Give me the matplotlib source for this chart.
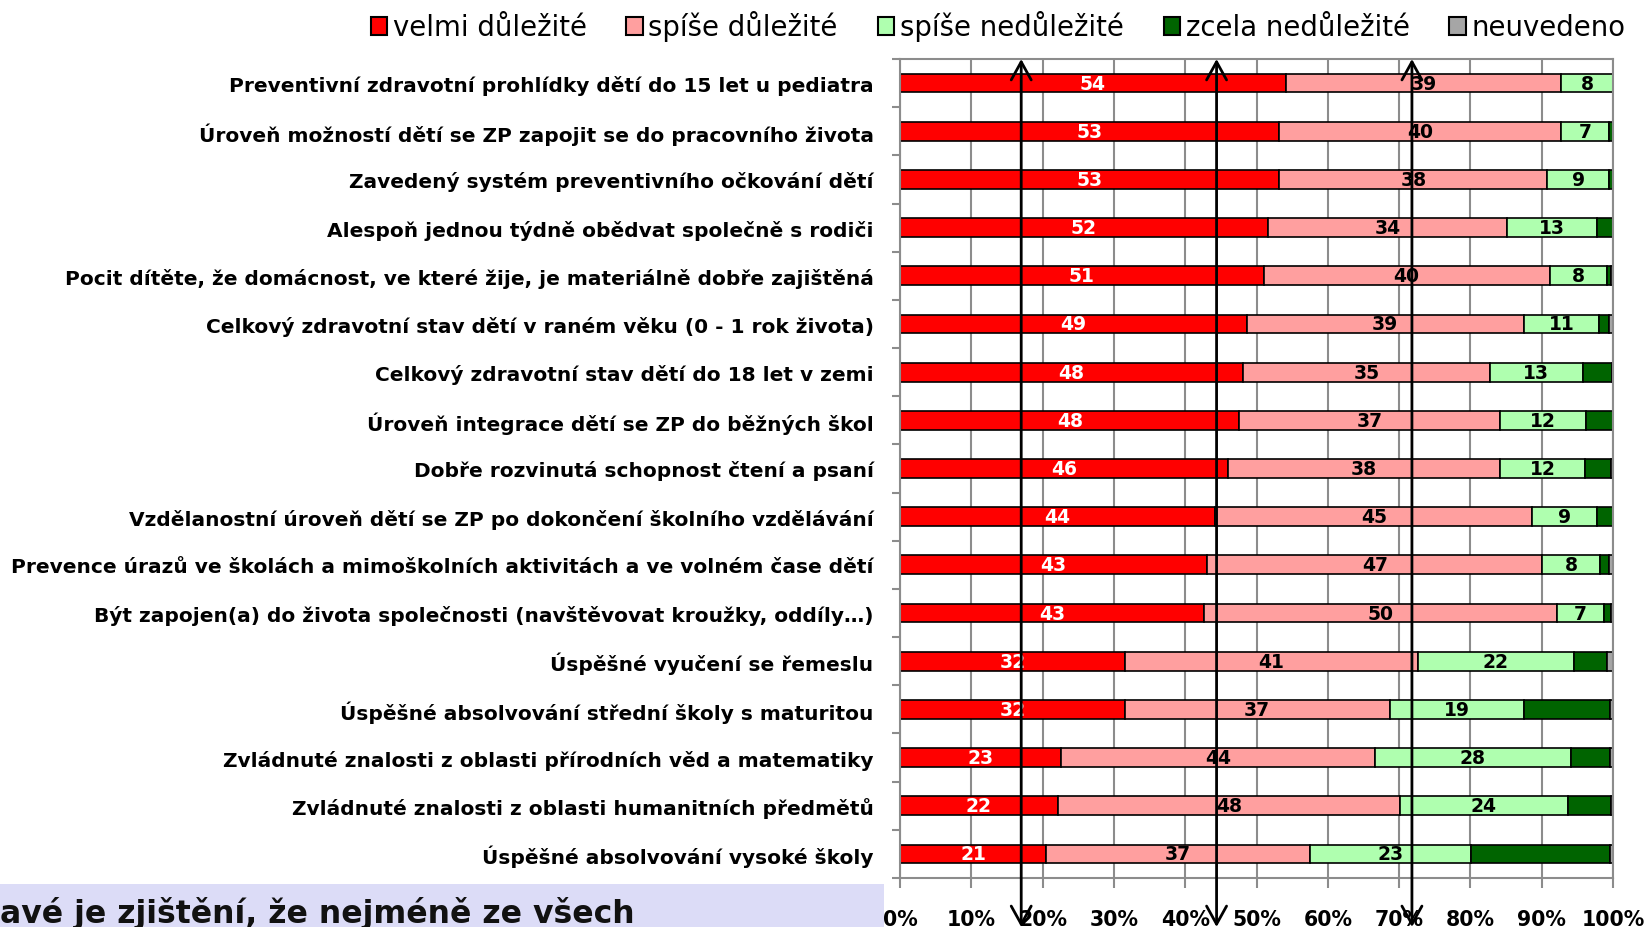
import matplotlib
matplotlib.use('Agg')
import matplotlib.pyplot as plt
from matplotlib.patches import Patch, FancyArrowPatch, Rectangle
import matplotlib.transforms as mtransforms
import numpy as np

plt.rcParams['font.family'] = ['DejaVu Sans']

categories = [
    'Preventivní zdravotní prohlídky dětí do 15 let u pediatra',
    'Úroveň možností dětí se ZP zapojit se do pracovního života',
    'Zavedený systém preventivního očkování dětí',
    'Alespoň jednou týdně obědvat společně s rodiči',
    'Pocit dítěte, že domácnost, ve které žije, je materiálně dobře zajištěná',
    'Celkový zdravotní stav dětí v raném věku (0 - 1 rok života)',
    'Celkový zdravotní stav dětí do 18 let v zemi',
    'Úroveň integrace dětí se ZP do běžných škol',
    'Dobře rozvinutá schopnost čtení a psaní',
    'Vzdělanostní úroveň dětí se ZP po dokončení školního vzdělávání',
    'Prevence úrazů ve školách a mimoškolních aktivitách a ve volném čase dětí',
    'Být zapojen(a) do života společnosti (navštěvovat kroužky, oddíly…)',
    'Úspěšné vyučení se řemeslu',
    'Úspěšné absolvování střední školy s maturitou',
    'Zvládnuté znalosti z oblasti přírodních věd a matematiky',
    'Zvládnuté znalosti z oblasti humanitních předmětů',
    'Úspěšné absolvování vysoké školy',
]

velmi_dulezite =     [54.1, 53.2, 53.2, 51.6, 51.0, 48.6, 48.1, 47.6, 46.0, 44.2, 43.1, 42.6, 31.5, 31.5, 22.6, 22.1, 20.5]
spise_dulezite =     [38.6, 39.5, 37.6, 33.6, 40.1, 38.9, 34.6, 36.6, 38.1, 44.5, 47.0, 49.6, 41.1, 37.2, 44.0, 48.0, 37.0]
spise_nedulezite =   [7.5,  6.8,  8.6,  12.6, 8.1,  10.6, 13.1, 12.0, 12.0, 9.0,  8.1,  6.5,  21.9, 18.8, 27.5, 23.6, 22.6]
zcela_nedulezite =   [0.0,  0.5,  0.6,  2.2,  0.5,  1.4,  4.0,  3.8,  3.6,  2.3,  1.3,  1.0,  4.7,  12.1, 5.5,  6.0,  19.5]
neuvedeno =          [0.0,  0.0,  0.0,  0.0,  0.3,  0.5,  0.3,  0.0,  0.3,  0.0,  0.5,  0.3,  0.8,  0.4,  0.4,  0.3,  0.4]

series_names = ['velmi důležité', 'spíše důležité', 'spíše nedůležité', 'zcela nedůležité', 'neuvedeno']
series_values = [velmi_dulezite, spise_dulezite, spise_nedulezite, zcela_nedulezite, neuvedeno]
series_colors = ['#FF0000', '#FF9F9F', '#AFFFAF', '#006400', '#A6A6A6']
label_colors = ['white', 'black', 'black', None, None]

xtick_values = [0, 10, 20, 30, 40, 50, 60, 70, 80, 90, 100]
xtick_labels = [f'{v}%' for v in xtick_values]
arrow_positions = [17.0, 44.4, 71.8]
note_text = 'avé je zjištění, že nejméně ze všech'

W, H = 1646, 928
fig = plt.figure(figsize=(W / 100, H / 100), dpi=100)
ax = fig.add_axes([900 / W, 1 - 879 / H, 713 / W, (879 - 60) / H])

n = len(categories)
y = np.arange(n)
left = np.zeros(n)
for vals, col, lc in zip(series_values, series_colors, label_colors):
    vals = np.asarray(vals, dtype=float)
    ax.barh(y, vals, left=left, height=0.39, color=col, edgecolor='black',
            linewidth=1.2, zorder=2)
    if lc is not None:
        for yy, l, v in zip(y, left, vals):
            ax.text(l + v / 2, yy, f'{int(v + 0.5)}', ha='center', va='center',
                    color=lc, fontweight='bold', fontsize=13.5, zorder=3)
    left += vals

ax.set_xlim(0, 100)
ax.set_ylim(n - 0.5, -0.5)
ax.set_yticks(y)
ax.set_yticklabels(categories, fontweight='bold', fontsize=14.5)
ax.set_yticks(np.arange(-0.5, n, 1.0), minor=True)
ax.tick_params(axis='y', which='major', length=0, pad=19)
ax.tick_params(axis='y', which='minor', length=6, color='#8c8c8c', width=1.5)
ax.set_xticks(xtick_values)
ax.set_xticklabels(xtick_labels, fontweight='bold', fontsize=14.8)
ax.tick_params(axis='x', which='major', length=7, color='#8c8c8c', width=1.5, pad=15)
ax.grid(axis='x', color='#8c8c8c', linewidth=1.5, zorder=0)
ax.set_axisbelow(True)
for s in ax.spines.values():
    s.set_color('#8c8c8c')
    s.set_linewidth(1.5)

handles = [Patch(facecolor=c, edgecolor='black', linewidth=1.5) for c in series_colors]
fig.legend(handles, series_names, loc='center', bbox_to_anchor=(998 / W, 1 - 27 / H),
           ncol=5, frameon=False, fontsize=19.8, handlelength=0.6, handleheight=0.6,
           handletextpad=0.2, columnspacing=1.45, borderaxespad=0, borderpad=0)

# annotation arrows
trans = mtransforms.blended_transform_factory(ax.transData, fig.transFigure)
for xa in arrow_positions:
    arr = FancyArrowPatch((xa, 0.0), (xa, 1 - 60 / H), transform=trans,
                          arrowstyle='<->,head_length=0.65,head_width=0.36',
                          mutation_scale=20, color='black', linewidth=2,
                          shrinkA=0, shrinkB=0, zorder=10)
    fig.add_artist(arr)

# note box
box = Rectangle((0, 0), 884 / W, (928 - 885) / H, transform=fig.transFigure,
                facecolor='#DCDCF7', edgecolor='none', zorder=5)
fig.add_artist(box)
fig.text(0, 1 - 923 / H, note_text, fontsize=22.7, fontweight='bold', ha='left',
         va='baseline', color='#111111', zorder=6)

fig.savefig('out.png', dpi=100)
